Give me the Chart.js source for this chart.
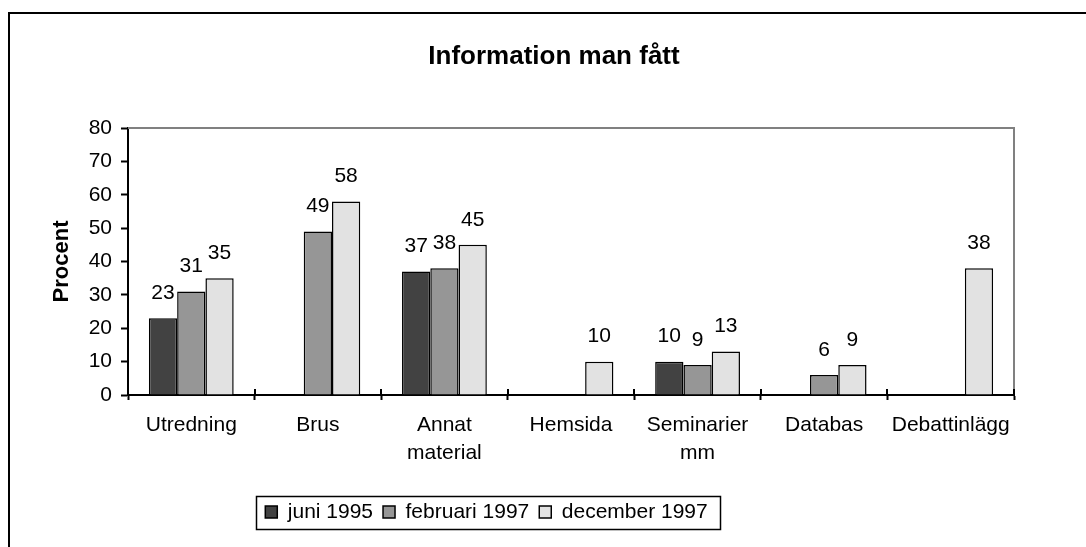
<!DOCTYPE html>
<html>
<head>
<meta charset="utf-8">
<title>Information man fått</title>
<script src="https://cdn.jsdelivr.net/npm/chart.js@4.4.1/dist/chart.umd.min.js"></script>
<style>
  html, body { margin: 0; padding: 0; background: #fff; overflow: hidden; }
  #frame { position: absolute; left: 8px; top: 12px; width: 1200px; height: 700px; border: 2px solid #000; }
  #wrap { position: absolute; left: 0; top: 0; width: 1086px; height: 547px; }
</style>
</head>
<body>
<div id="frame"></div>
<div id="wrap"><canvas id="myChart"></canvas></div>
<script>
// data
const categories = ['Utredning', 'Brus', ['Annat', 'material'], 'Hemsida', ['Seminarier', 'mm'], 'Databas', 'Debattinlägg'];
const seriesNames = ['juni 1995', 'februari 1997', 'december 1997'];
const juni1995 = [23, null, 37, null, 10, null, null];
const februari1997 = [31, 49, 38, null, 9, 6, null];
const december1997 = [35, 58, 45, 10, 13, 9, 38];
const yMin = 0, yMax = 80, yStep = 10;

const FONT = 'Liberation Sans, Arial, Helvetica, sans-serif';
Chart.defaults.font.family = FONT;
Chart.defaults.color = '#000';

const extras = {
    id: 'extras',
    afterLayout(chart) {
        // title and legend are not centred on the canvas in the original
        const t = chart.titleBlock;
        let dx = 554 - (t.left + t.right) / 2;
        t.left += dx; t.right += dx;
        const l = chart.legend;
        dx = 486.5 - (l.left + l.right) / 2;
        l.left += dx; l.right += dx;
    },
    afterDatasetsDraw(chart) {
        const ctx = chart.ctx;
        ctx.save();
        ctx.font = '21px ' + FONT;
        ctx.fillStyle = '#000';
        ctx.textAlign = 'center';
        ctx.textBaseline = 'middle';
        chart.data.datasets.forEach((ds, i) => {
            const meta = chart.getDatasetMeta(i);
            meta.data.forEach((bar, j) => {
                const v = ds.data[j];
                if (v === null || v === undefined) return;
                ctx.fillText(String(v), bar.x, bar.y - 25);
            });
        });
        ctx.restore();
    },
    afterDraw(chart) {
        const ctx = chart.ctx;
        const a = chart.chartArea;
        const x = chart.scales.x;
        ctx.save();
        // grey plot frame top + right
        ctx.strokeStyle = '#808080';
        ctx.lineWidth = 2;
        ctx.beginPath();
        ctx.moveTo(a.left, a.top);
        ctx.lineTo(a.right, a.top);
        ctx.lineTo(a.right, a.bottom);
        ctx.stroke();
        // inner part of the category ticks
        ctx.strokeStyle = '#000';
        ctx.lineWidth = 2;
        ctx.beginPath();
        for (let i = 0; i <= categories.length; i++) {
            const px = Math.round(x.getPixelForValue(i - 0.5));
            ctx.moveTo(px, a.bottom);
            ctx.lineTo(px, a.bottom - 6);
        }
        ctx.stroke();
        // box round the legend
        const l = chart.legend;
        const pad = l.options.labels.padding;
        const w = l.lineWidths[0] - pad;
        const cx = (l.left + l.right) / 2;
        const cy = l.top + pad + 21 / 2;
        ctx.lineWidth = 1.5;
        ctx.strokeRect(Math.round(cx - w / 2 - 9) + 0.5, Math.round(cy - 16) + 0.5, Math.round(w + 22), 33);
        ctx.restore();
    }
};

const ctx = document.getElementById('myChart').getContext('2d');
const myChart = new Chart(ctx, {
    type: 'bar',
    data: {
        labels: categories,
        datasets: [{
            label: seriesNames[0],
            data: juni1995,
            backgroundColor: '#424242',
            borderColor: '#000',
            borderWidth: 1.5,
        }, {
            label: seriesNames[1],
            data: februari1997,
            backgroundColor: '#969696',
            borderColor: '#000',
            borderWidth: 1.5,
        }, {
            label: seriesNames[2],
            data: december1997,
            backgroundColor: '#e2e2e2',
            borderColor: '#000',
            borderWidth: 1.5,
        }]
    },
    options: {
        responsive: true,
        maintainAspectRatio: false,
        animation: false,
        categoryPercentage: 0.67,
        barPercentage: 1.0,
        layout: {
            padding: { left: 0, right: 72, top: 0, bottom: 14.5 }
        },
        scales: {
            x: {
                offset: true,
                grid: {
                    display: true,
                    offset: true,
                    drawOnChartArea: false,
                    drawTicks: true,
                    tickLength: 5,
                    tickWidth: 2,
                    tickColor: '#000',
                },
                border: { display: true, color: '#000', width: 2 },
                ticks: {
                    font: { size: 21, lineHeight: 1.333 },
                    color: '#000',
                    padding: 11,
                    maxRotation: 0,
                    autoSkip: false,
                },
                afterFit: s => { s.height = 96.5; }
            },
            y: {
                min: yMin,
                max: yMax,
                grid: {
                    drawOnChartArea: false,
                    tickLength: 7,
                    tickWidth: 2,
                    tickColor: '#000',
                },
                border: { display: true, color: '#000', width: 2 },
                ticks: {
                    stepSize: yStep,
                    font: { size: 21 },
                    color: '#000',
                    padding: 9,
                },
                title: {
                    display: true,
                    text: 'Procent',
                    font: { size: 22, weight: 'bold', lineHeight: 1.2 },
                    color: '#000',
                    padding: { top: 48.8, bottom: 0 },
                },
                afterFit: s => { s.width = 128; }
            }
        },
        plugins: {
            title: {
                display: true,
                text: 'Information man fått',
                font: { size: 26, weight: 'bold', lineHeight: 1.2 },
                color: '#000',
                padding: { top: 41.4, bottom: 55.4 },
            },
            legend: {
                display: true,
                position: 'bottom',
                labels: {
                    boxWidth: 12,
                    boxHeight: 12,
                    padding: 10,
                    font: { size: 21 },
                    color: '#000',
                }
            },
            tooltip: { enabled: false }
        }
    },
    plugins: [extras]
});
</script>
</body>
</html>
